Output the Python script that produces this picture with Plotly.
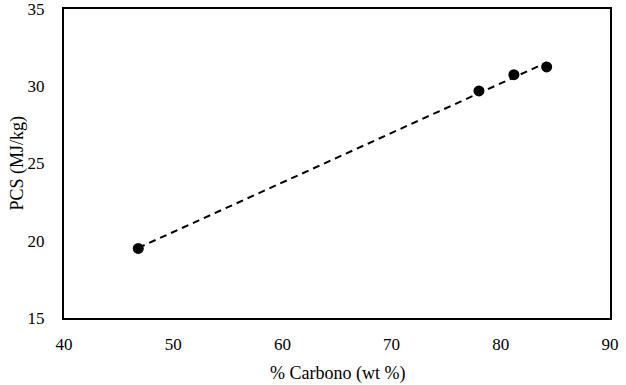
import numpy as np
import plotly.graph_objects as go

carbono = [46.8, 78.0, 81.2, 84.2]
pcs = [19.5, 29.7, 30.75, 31.25]

x_ticks = [40, 50, 60, 70, 80, 90]
y_ticks = [15, 20, 25, 30, 35]

x_title = "% Carbono (wt %)"
y_title = "PCS (MJ/kg)"

slope, intercept = np.polyfit(carbono, pcs, 1)
fit_x = [min(carbono), max(carbono)]
fit_y = [slope * v + intercept for v in fit_x]

fig = go.Figure()
fig.add_trace(go.Scatter(x=fit_x, y=fit_y, mode="lines",
                         line=dict(color="black", width=2, dash="7px,5px"),
                         showlegend=False, hoverinfo="skip"))
fig.add_trace(go.Scatter(x=carbono, y=pcs, mode="markers",
                         marker=dict(color="black", size=11),
                         showlegend=False))

font_family = "Liberation Serif, Times New Roman, serif"
fig.update_layout(
    width=626, height=385,
    margin=dict(l=64, r=16, t=9, b=67, autoexpand=False),
    paper_bgcolor="white", plot_bgcolor="white",
    font=dict(family=font_family, color="black", size=17),
    xaxis=dict(range=[40, 90], tickvals=x_ticks, showgrid=False, zeroline=False,
               showline=True, linecolor="black", linewidth=2, mirror=True,
               ticks="outside", ticklen=10, tickcolor="rgba(0,0,0,0)", tickwidth=1,
               tickfont=dict(size=17), automargin=False, ticklabeloverflow="allow"),
    yaxis=dict(range=[15, 35], tickvals=y_ticks, showgrid=False, zeroline=False,
               showline=True, linecolor="black", linewidth=2, mirror=True,
               ticks="outside", ticklen=14, tickcolor="rgba(0,0,0,0)", tickwidth=1,
               tickfont=dict(size=17), automargin=False, ticklabeloverflow="allow"),
    annotations=[
        dict(text=x_title, xref="paper", yref="paper", x=0.5, y=0,
             xanchor="center", yanchor="middle", yshift=-55, showarrow=False,
             font=dict(size=18)),
        dict(text=y_title, xref="paper", yref="paper", x=0, y=0.5,
             xanchor="center", yanchor="middle", xshift=-47, textangle=-90,
             showarrow=False, font=dict(size=18)),
    ],
)
fig.write_html("out.html", config={"displayModeBar": False},
               post_script="document.body.style.margin='0';")
